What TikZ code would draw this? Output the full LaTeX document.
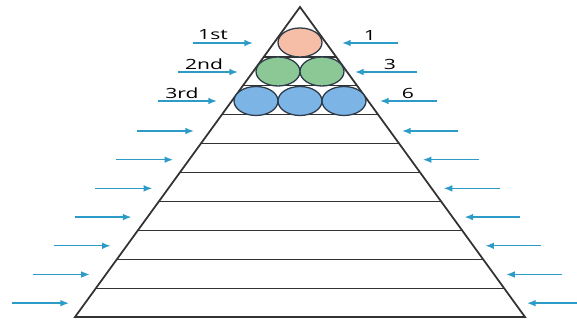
\documentclass[tikz,border=0pt]{standalone}
\usepackage{fontspec}
\setmainfont{Open Sans}
\usepackage{tikz}
\usetikzlibrary{arrows.meta,calc}
\definecolor{ArrowBlue}{RGB}{45,155,200}
\definecolor{EdgeGray}{RGB}{50,50,50}
\definecolor{TopFill}{RGB}{246,190,166}
\definecolor{MidFill}{RGB}{140,200,150}
\definecolor{LowFill}{RGB}{125,180,230}
\definecolor{BallLine}{RGB}{45,60,75}
\tikzset{
  pusharrow/.style={-{Latex[length=2.6mm,width=2mm]}, ArrowBlue, line width=1.2pt},
  layerline/.style={EdgeGray, line width=0.9pt},
  ball/.style={draw=BallLine, line width=1.1pt},
  rowlabel/.style={font=\fontsize{12}{14}\selectfont, inner sep=0pt}
}
\newcommand{\wide}[1]{\scalebox{1.5}[1]{#1}}

\begin{document}
\begin{tikzpicture}[x=0.03cm, y=-0.03cm]
        \useasboundingbox (0,0) rectangle (577,321);
        \coordinate (apex) at (300,7);
        \coordinate (bl) at (75,317);
        \coordinate (br) at (525,317);
        % layers of the pile
        \foreach \k in {0,...,8} {
          \pgfmathsetmacro{\t}{(50+\k*28.89)/310}
          \draw[layerline] ($(apex)!\t!(bl)$) -- ($(apex)!\t!(br)$);
        }
        \draw[EdgeGray, line width=1.5pt, line join=miter] (bl) -- (apex) -- (br) -- cycle;
        % balls
        \draw[ball, fill=TopFill] (300,42.5) ellipse (22 and 14.5);
        \draw[ball, fill=MidFill] (278,71.5) ellipse (22 and 14.5);
        \draw[ball, fill=MidFill] (322,71.5) ellipse (22 and 14.5);
        \draw[ball, fill=LowFill] (256,101) ellipse (22 and 14.5);
        \draw[ball, fill=LowFill] (300,101) ellipse (22 and 14.5);
        \draw[ball, fill=LowFill] (344,101) ellipse (22 and 14.5);
        % labels of the top rows
        \coordinate (l1a) at (193,43);  \coordinate (l1b) at (253,43);
        \coordinate (l2a) at (178,72);  \coordinate (l2b) at (238,72);
        \coordinate (l3a) at (158,101); \coordinate (l3b) at (217,101);
        \coordinate (r1a) at (398,43);  \coordinate (r1b) at (342,43);
        \coordinate (r2a) at (417,72);  \coordinate (r2b) at (355,72);
        \coordinate (r3a) at (437,101); \coordinate (r3b) at (380,101);
        \draw[pusharrow] (l1a) -- (l1b);
        \draw[pusharrow] (l2a) -- (l2b);
        \draw[pusharrow] (l3a) -- (l3b);
        \draw[pusharrow] (r1a) -- (r1b);
        \draw[pusharrow] (r2a) -- (r2b);
        \draw[pusharrow] (r3a) -- (r3b);
        \node[rowlabel] (first) at (213,35) {\wide{1st}};
        \node[rowlabel] (second) at (204,64) {\wide{2nd}};
        \node[rowlabel] (third) at (182,93) {\wide{3rd}};
        \node[rowlabel] (one) at (370,35) {\wide{1}};
        \node[rowlabel] (three) at (390,64) {\wide{3}};
        \node[rowlabel] (six) at (408,93) {\wide{6}};
        % side pressure
        \foreach \k in {0,...,6} {
          \pgfmathsetmacro{\t}{(124+\k*28.7)/310}
          \coordinate (lt\k) at ($(apex)!\t!(bl) + (-16,0)$);
          \coordinate (ls\k) at ($(lt\k) + (-57,0)$);
          \coordinate (rt\k) at ($(apex)!\t!(br) + (12,0)$);
          \coordinate (rs\k) at ($(rt\k) + (56,0)$);
          \draw[pusharrow] (ls\k) -- (lt\k);
          \draw[pusharrow] (rs\k) -- (rt\k);
        }
      \end{tikzpicture}
\end{document}
